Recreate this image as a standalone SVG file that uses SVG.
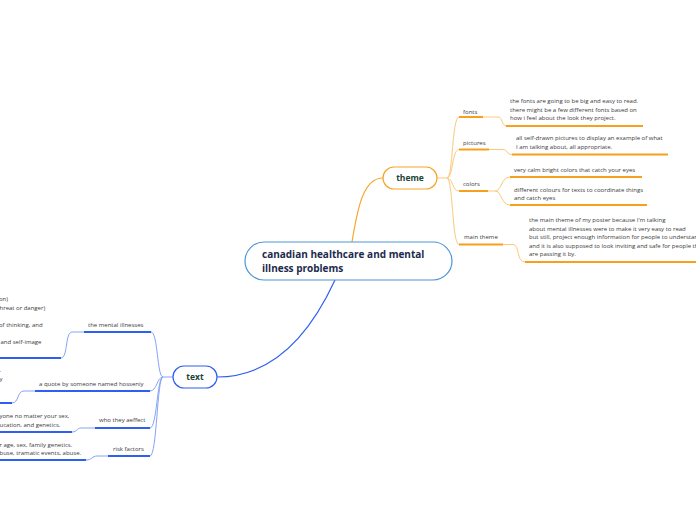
<svg xmlns="http://www.w3.org/2000/svg" width="696" height="520" viewBox="0 0 696 520">
<style>
text{font-family:"Open Sans","Liberation Sans",sans-serif;}
.lbl{font-size:6px;fill:#3a3a3a;}
.body{font-size:6px;fill:#3a3a3a;}
.ou{stroke:#f6a01e;stroke-width:2;fill:none;}
.oc{stroke:#fcc979;stroke-width:1;fill:none;}
.bu{stroke:#2f5ff0;stroke-width:2;fill:none;}
.bc{stroke:#86a3f7;stroke-width:1;fill:none;}
.main{font-size:10px;font-weight:bold;fill:#1c2a4e;}
.l1{font-size:8.5px;font-weight:bold;fill:#1a4436;text-anchor:middle;}
</style>
<rect width="696" height="520" fill="#ffffff"/>
<g id="connectors">
<path d="M352,242 C358,205 364,178 383,178" stroke="#f7a52a" stroke-width="1.2" fill="none"/>
<path d="M335,280 C305,345 265,377 217,377" stroke="#2f5ff0" stroke-width="1.2" fill="none"/>
<path class="oc" d="M437,178 L447,178 C453,178 452,117 459,117"/>
<path class="oc" d="M447,178 C453,178 452,149.5 459,149.5"/>
<path class="oc" d="M447,178 C453,178 452,191 459,191"/>
<path class="oc" d="M447,178 C453,178 452,244.5 459,244.5"/>
<path class="oc" d="M483,117 L498,117 C503,117 501,126 507,126"/>
<path class="oc" d="M489,149.5 L503,149.5 C508,149.5 506,154.5 512,154.5"/>
<path class="oc" d="M488,191 L495,191 C502,191 501,177 510,177"/>
<path class="oc" d="M495,191 C502,191 501,205 510,205"/>
<path class="oc" d="M503,244.5 L513,244.5 C520,244.5 516,262 525,262"/>
<path class="bc" d="M173,377 L163,377 C157,377 158,332 151,332"/>
<path class="bc" d="M163,377 C157,377 157,391 150,391"/>
<path class="bc" d="M163,377 C157,377 157,428 150,428"/>
<path class="bc" d="M163,377 C157,377 157,456 150,456"/>
<path class="bc" d="M84,332 L72,332 C65,332 68,358 61,358"/>
<path class="bc" d="M35,391 L24,391 C17,391 19,403 12,403"/>
<path class="bc" d="M95,428 L81,428 C77,428 77,432 72,432"/>
<path class="bc" d="M108,456 L97,456 C92,456 92,460 86,460"/>
</g>
<g id="central">
<rect x="245" y="242" width="207" height="38" rx="19" fill="#ffffff" stroke="#4d96d6" stroke-width="1.2"/>
<text class="main" x="262" y="258">canadian healthcare and mental</text>
<text class="main" x="262" y="272">illness problems</text>
</g>
<g id="theme">
<rect x="383" y="167" width="54" height="22" rx="11" fill="#ffffff" stroke="#f7a52a" stroke-width="1.2"/>
<text class="l1" x="410" y="181">theme</text>
</g>
<g id="fonts">
<text class="lbl" x="463" y="114">fonts</text>
<path class="ou" d="M459,117 L483,117"/>
</g>
<g id="fonts-desc">
<text class="body" x="510" y="103">the fonts are going to be big and easy to read.</text>
<text class="body" x="510" y="111.5">there might be a few different fonts based on</text>
<text class="body" x="510" y="120">how i feel about the look they project.</text>
<path class="ou" d="M506,126 L643,126"/>
</g>
<g id="pictures">
<text class="lbl" x="463" y="145">pictures</text>
<path class="ou" d="M459,149.5 L489,149.5"/>
</g>
<g id="pictures-desc">
<text class="body" x="516" y="140">all self-drawn pictures to display an example of what</text>
<text class="body" x="516" y="149"> I am talking about, all appropriate.</text>
<path class="ou" d="M512,154.5 L668,154.5"/>
</g>
<g id="colors">
<text class="lbl" x="463" y="186">colors</text>
<path class="ou" d="M459,191 L488,191"/>
</g>
<g id="colors-desc1">
<text class="body" x="514" y="171.5">very calm bright colors that catch your eyes</text>
<path class="ou" d="M510,177 L642,177"/>
</g>
<g id="colors-desc2">
<text class="body" x="514" y="191.5">different colours for texts to coordinate things</text>
<text class="body" x="514" y="200">and catch eyes</text>
<path class="ou" d="M510,205 L647,205"/>
</g>
<g id="main-theme">
<text class="lbl" x="464" y="239">main theme</text>
<path class="ou" d="M459,244.5 L503,244.5"/>
</g>
<g id="main-theme-desc">
<text class="body" x="529" y="222">the main theme of my poster because I'm talking</text>
<text class="body" x="529" y="230.5">about mental illnesses were to make it very easy to read</text>
<text class="body" x="529" y="239">but still, project enough information for people to understand</text>
<text class="body" x="529" y="247.5">and it is also supposed to look inviting and safe for people that</text>
<text class="body" x="529" y="256">are passing it by.</text>
<path class="ou" d="M525,262 L700,262"/>
</g>
<g id="text">
<rect x="173" y="366" width="44" height="22" rx="11" fill="#ffffff" stroke="#2f5ff0" stroke-width="1.2"/>
<text class="l1" x="195" y="380">text</text>
</g>
<g id="mental-illnesses">
<text class="lbl" x="88" y="326.5">the mental illnesses</text>
<path class="bu" d="M84,332 L151,332"/>
</g>
<g id="mental-illnesses-desc">
<text class="body" x="-1" y="301">on)</text>
<text class="body" x="-0.5" y="310">hreat or danger)</text>
<text class="body" x="-1" y="327">of thinking, and</text>
<text class="body" x="0.5" y="344">and self-image</text>
<path class="bu" d="M-2,358 L61,358"/>
</g>
<g id="quote">
<text class="lbl" x="39" y="385.5">a quote by someone named hosseniy</text>
<path class="bu" d="M35,391 L150,391"/>
</g>
<g id="quote-desc">
<text class="body" x="-0.5" y="372">.</text>
<text class="body" x="-0.5" y="381">y</text>
<path class="bu" d="M-2,403 L12,403"/>
</g>
<g id="who-they-affect">
<text class="lbl" x="99" y="422">who they aeffect</text>
<path class="bu" d="M95,428 L150,428"/>
</g>
<g id="who-they-affect-desc">
<text class="body" x="-0.5" y="418">yone no matter your sex,</text>
<text class="body" x="-0.5" y="426.5">ucation, and genetics.</text>
<path class="bu" d="M-2,432 L72,432"/>
</g>
<g id="risk-factors">
<text class="lbl" x="113" y="451">risk factors</text>
<path class="bu" d="M108,456 L150,456"/>
</g>
<g id="risk-factors-desc">
<text class="body" x="-0.5" y="447">r age, sex, family genetics.</text>
<text class="body" x="-0.5" y="455">buse, tramatic events, abuse.</text>
<path class="bu" d="M-2,460 L86,460"/>
</g>
</svg>
